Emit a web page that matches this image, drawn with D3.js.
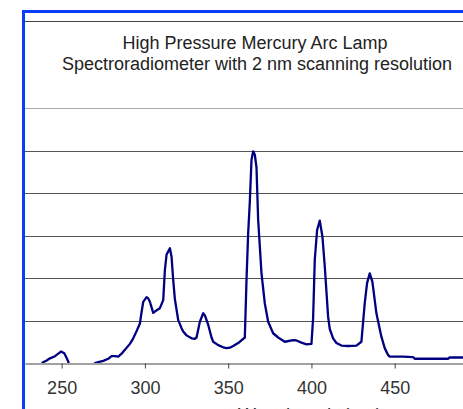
<!DOCTYPE html>
<html>
<head>
<meta charset="utf-8">
<script src="https://cdn.jsdelivr.net/npm/d3@7"></script>
<style>
  body { margin: 0; background: #fff; }
  svg { display: block; font-family: "Liberation Sans", Arial, sans-serif; }
</style>
</head>
<body>
<div id="chart"></div>
<script>
// wavelength (nm) and relative irradiance
const wavelength = [238, 241, 243, 246, 248, 249.6, 251.6, 253, 254, 256, 266, 270, 272, 275, 278, 280, 282, 284, 286, 288,
  291, 293, 295, 297, 298, 299, 301, 302, 303, 305, 307, 309, 311, 312, 313, 315, 316, 317, 318, 320,
  322, 323, 325, 328, 330, 331, 333, 335, 336, 338, 340, 341, 344, 347, 349, 351, 353, 356, 360, 361,
  362, 363, 364, 365, 366, 367, 368, 370, 372, 374, 377, 380, 384, 389, 391, 394, 397, 400, 401, 402,
  403.4, 405, 406.6, 408, 410, 411, 413, 415, 418, 422, 427, 430, 432, 433.4, 435, 436.6, 439, 441, 442, 444,
  446, 447, 455, 461, 462, 482, 483, 491];
const irradiance = [0, 0.06, 0.11, 0.16, 0.22, 0.27, 0.23, 0.12, 0.03, -0.25, -0.25, 0, 0.02, 0.05, 0.1, 0.16, 0.16, 0.15, 0.22, 0.31,
  0.45, 0.58, 0.75, 0.93, 1.2, 1.44, 1.55, 1.52, 1.44, 1.18, 1.24, 1.29, 1.48, 2.19, 2.55, 2.7, 2.5, 1.95, 1.5, 1.01,
  0.82, 0.74, 0.65, 0.58, 0.57, 0.6, 0.97, 1.17, 1.12, 0.9, 0.6, 0.5, 0.42, 0.37, 0.35, 0.36, 0.4, 0.47, 0.6, 1.95,
  3.05, 3.8, 4.78, 4.98, 4.9, 4.6, 3.37, 2.11, 1.4, 0.97, 0.7, 0.6, 0.5, 0.54, 0.53, 0.48, 0.44, 0.45, 1.05, 2.43,
  3.13, 3.35, 2.97, 2.27, 1.09, 0.8, 0.58, 0.47, 0.41, 0.4, 0.41, 0.5, 1.41, 1.88, 2.11, 1.91, 1.17, 0.8, 0.62, 0.35,
  0.19, 0.15, 0.15, 0.14, 0.1, 0.1, 0.13, 0.13];
const xTicks = [250, 300, 350, 400, 450];
const yGrid = [1, 2, 3, 4, 5, 6, 7];
const titleLines = ["High Pressure Mercury Arc Lamp", "Spectroradiometer with 2 nm scanning resolution"];
const xLabel = "Wavelength (nm)";

const W = 463, H = 409;
const plot = { left: 25, right: 463, top: 21, bottom: 363 };

const svg = d3.select('#chart').append('svg')
  .attr('width', W)
  .attr('height', H);

const x = d3.scaleLinear().domain([228, 491]).range([plot.left, plot.right]);
const y = d3.scaleLinear().domain([0, 8]).range([plot.bottom, plot.bottom - 8 * 42.5]);

// gridlines
svg.append('g')
  .selectAll('line')
  .data(yGrid)
  .enter().append('line')
  .attr('x1', plot.left)
  .attr('x2', plot.right)
  .attr('y1', d => Math.round(y(d)) + 0.5)
  .attr('y2', d => Math.round(y(d)) + 0.5)
  .attr('stroke', d => d === 6 ? '#aaa' : '#555')
  .attr('stroke-width', 1);

// top frame line
svg.append('line')
  .attr('x1', plot.left).attr('x2', plot.right)
  .attr('y1', plot.top + 0.5).attr('y2', plot.top + 0.5)
  .attr('stroke', '#444');

// title box hides the gridline behind it
svg.append('rect')
  .attr('x', plot.left).attr('y', 26)
  .attr('width', plot.right - plot.left).attr('height', 70)
  .attr('fill', '#fff');

svg.append('g')
  .selectAll('text')
  .data(titleLines)
  .enter().append('text')
  .attr('x', (d, i) => i === 0 ? 255 : 257)
  .attr('y', (d, i) => 49 + i * 20.7)
  .attr('text-anchor', 'middle')
  .attr('font-size', '18px')
  .attr('fill', '#222')
  .text(d => d);

// clip the trace to the plot area
svg.append('clipPath').attr('id', 'clip')
  .append('rect')
  .attr('x', plot.left).attr('y', 0)
  .attr('width', plot.right - plot.left).attr('height', plot.bottom);

// x axis
const xAxis = svg.append('g')
  .attr('class', 'axis axis-x')
  .attr('transform', `translate(0, ${plot.bottom + 0.5})`)
  .call(d3.axisBottom(x).tickValues(xTicks).tickSize(5).tickPadding(13).tickSizeOuter(0));
xAxis.select('.domain').attr('stroke', '#444');
xAxis.selectAll('.tick line').attr('stroke', '#444');
xAxis.selectAll('.tick text')
  .attr('font-family', '"Liberation Sans", Arial, sans-serif')
  .attr('font-size', '18px')
  .attr('fill', '#333');

// spectrum trace
const pts = wavelength.map((w, i) => [w, irradiance[i]]);
svg.append('path')
  .datum(pts)
  .attr('clip-path', 'url(#clip)')
  .attr('fill', 'none')
  .attr('stroke', '#000080')
  .attr('stroke-width', 2.3)
  .attr('stroke-linejoin', 'round')
  .attr('d', d3.line().x(d => x(d[0])).y(d => y(d[1])));

// axis title, mostly cut off by the bottom edge as in the original
svg.append('text')
  .attr('x', 310)
  .attr('y', 420.5)
  .attr('text-anchor', 'middle')
  .attr('font-size', '19px')
  .attr('fill', '#333')
  .text(xLabel);

// blue frame on the left and top
svg.append('rect')
  .attr('x', 22).attr('y', 10)
  .attr('width', 3).attr('height', H - 10)
  .attr('fill', '#0a3cff');
svg.append('rect')
  .attr('x', 22).attr('y', 10)
  .attr('width', W - 22).attr('height', 3)
  .attr('fill', '#0a3cff');
</script>
</body>
</html>
